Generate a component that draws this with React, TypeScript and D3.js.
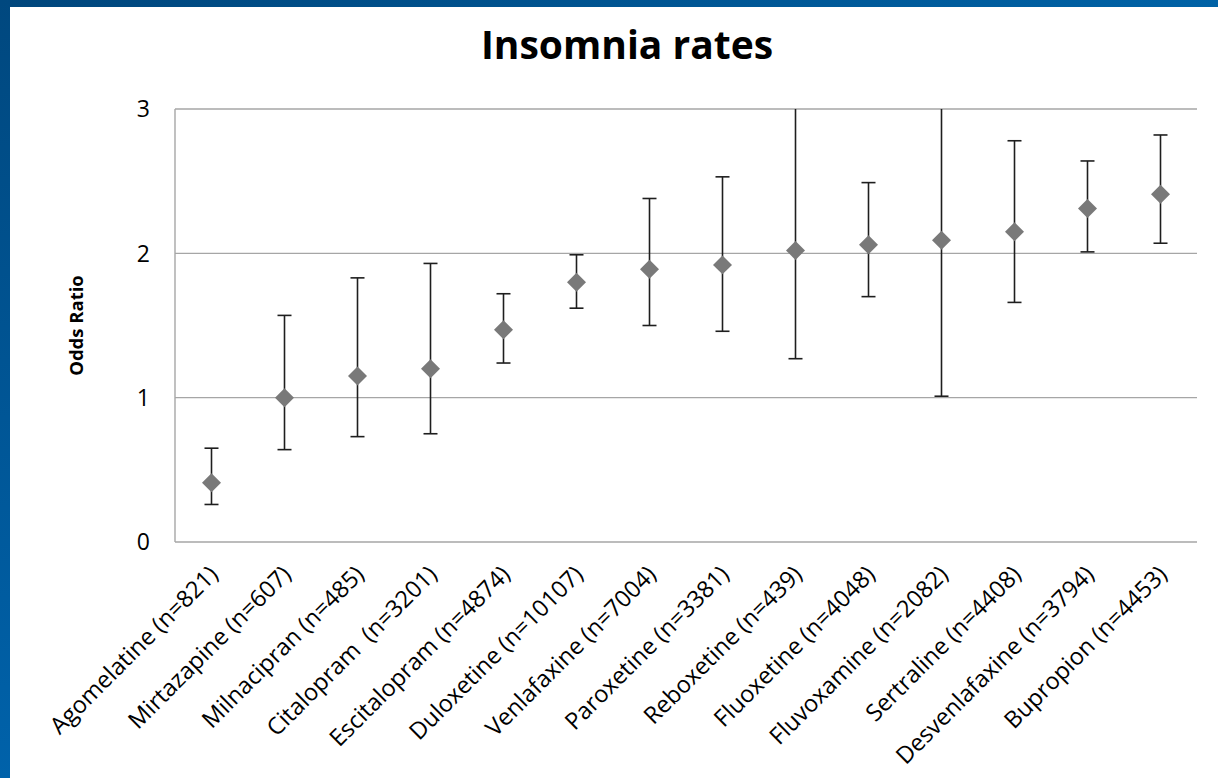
import React from 'react';
import * as d3 from 'd3';

// drug names with sample sizes (note the double space in Citalopram, as on the slide)
const drugs = [
  'Agomelatine (n=821)',
  'Mirtazapine (n=607)',
  'Milnacipran (n=485)',
  'Citalopram  (n=3201)',
  'Escitalopram (n=4874)',
  'Duloxetine (n=10107)',
  'Venlafaxine (n=7004)',
  'Paroxetine (n=3381)',
  'Reboxetine (n=439)',
  'Fluoxetine (n=4048)',
  'Fluvoxamine (n=2082)',
  'Sertraline (n=4408)',
  'Desvenlafaxine (n=3794)',
  'Bupropion (n=4453)'
];

const oddsRatio = [0.41, 1.0, 1.15, 1.2, 1.47, 1.8, 1.89, 1.92, 2.02, 2.06, 2.09, 2.15, 2.31, 2.41];
const lowerCI = [0.26, 0.64, 0.73, 0.75, 1.24, 1.62, 1.5, 1.46, 1.27, 1.7, 1.01, 1.66, 2.01, 2.07];
const upperCI = [0.65, 1.57, 1.83, 1.93, 1.72, 1.99, 2.38, 2.53, 3.3, 2.49, 3.4, 2.78, 2.64, 2.82];
const yTicks = [0, 1, 2, 3];

const W = 1218;
const H = 778;
const plot = { left: 175, right: 1197, top: 109, bottom: 542 };
const font = '"Open Sans", "Liberation Sans", sans-serif';

const App = () => {
  const x = d3.scaleBand<string>().domain(drugs).range([plot.left, plot.right]);
  const y = d3.scaleLinear().domain([0, 3]).range([plot.bottom, plot.top]);
  const diamond = d3.symbol().type(d3.symbolSquare).size(180)();
  const capW = 14;

  const clipY = (v: number) => y(Math.min(v, 3));

  return (
    <svg
      width={W}
      height={H}
      style={{ position: 'absolute', left: 0, top: 0, display: 'block', background: '#fff' }}
    >
      <defs>
        <linearGradient id="topBar" x1="0" x2="1" y1="0" y2="0">
          <stop offset="0" stopColor="#00467c" />
          <stop offset="1" stopColor="#0062a6" />
        </linearGradient>
        <linearGradient id="leftBar" x1="0" x2="0" y1="0" y2="1">
          <stop offset="0" stopColor="#00487f" />
          <stop offset="1" stopColor="#0062aa" />
        </linearGradient>
      </defs>

      {/* marco azul de la diapositiva */}
      <rect x={0} y={0} width={W} height={7} fill="url(#topBar)" />
      <rect x={0} y={0} width={10} height={H} fill="url(#leftBar)" />

      {/* título */}
      <text x={627} y={59} textAnchor="middle" fontFamily={font} fontWeight="bold" fontSize={39} fill="#000">
        Insomnia rates
      </text>

      {/* rejilla */}
      {yTicks.map(t => (
        <line
          key={'g' + t}
          x1={plot.left}
          x2={plot.right}
          y1={y(t)}
          y2={y(t)}
          stroke="#a6a6a6"
          strokeWidth={1.4}
        />
      ))}
      <line x1={plot.left} x2={plot.left} y1={plot.top} y2={plot.bottom} stroke="#a6a6a6" strokeWidth={1.4} />

      {/* etiquetas eje y */}
      {yTicks.map(t => (
        <text
          key={'t' + t}
          x={plot.left - 25}
          y={y(t)}
          dy="0.36em"
          textAnchor="end"
          fontFamily={font}
          fontSize={23}
          fill="#000"
        >
          {t}
        </text>
      ))}

      <text
        transform={`translate(83, ${(plot.top + plot.bottom) / 2}) rotate(-90)`}
        textAnchor="middle"
        fontFamily={font}
        fontWeight="bold"
        fontSize={18.5}
        fill="#000"
      >
        Odds Ratio
      </text>

      {/* barras de error */}
      {drugs.map((d, i) => {
        const cx = x(d)! + x.bandwidth() / 2;
        const yHi = clipY(upperCI[i]);
        const yLo = y(lowerCI[i]);
        return (
          <g key={'e' + d} stroke="#1e1e1e" strokeWidth={1.6}>
            <line x1={cx} x2={cx} y1={yHi} y2={yLo} />
            {upperCI[i] <= 3 && <line x1={cx - capW / 2} x2={cx + capW / 2} y1={yHi} y2={yHi} />}
            <line x1={cx - capW / 2} x2={cx + capW / 2} y1={yLo} y2={yLo} />
          </g>
        );
      })}

      {/* puntos */}
      {drugs.map((d, i) => {
        const cx = x(d)! + x.bandwidth() / 2;
        return (
          <path
            key={'p' + d}
            d={diamond || ''}
            transform={`translate(${cx}, ${y(oddsRatio[i])}) rotate(45)`}
            fill="#797979"
          />
        );
      })}

      {/* etiquetas eje x */}
      {drugs.map(d => {
        const cx = x(d)! + x.bandwidth() / 2;
        return (
          <text
            key={'l' + d}
            transform={`translate(${cx + 2}, ${plot.bottom + 28}) rotate(-45)`}
            dy="0.35em"
            textAnchor="end"
            fontFamily={font}
            fontSize={23.5}
            fill="#000"
            style={{ whiteSpace: 'pre' }}
          >
            {d}
          </text>
        );
      })}
    </svg>
  );
};

export default App;
